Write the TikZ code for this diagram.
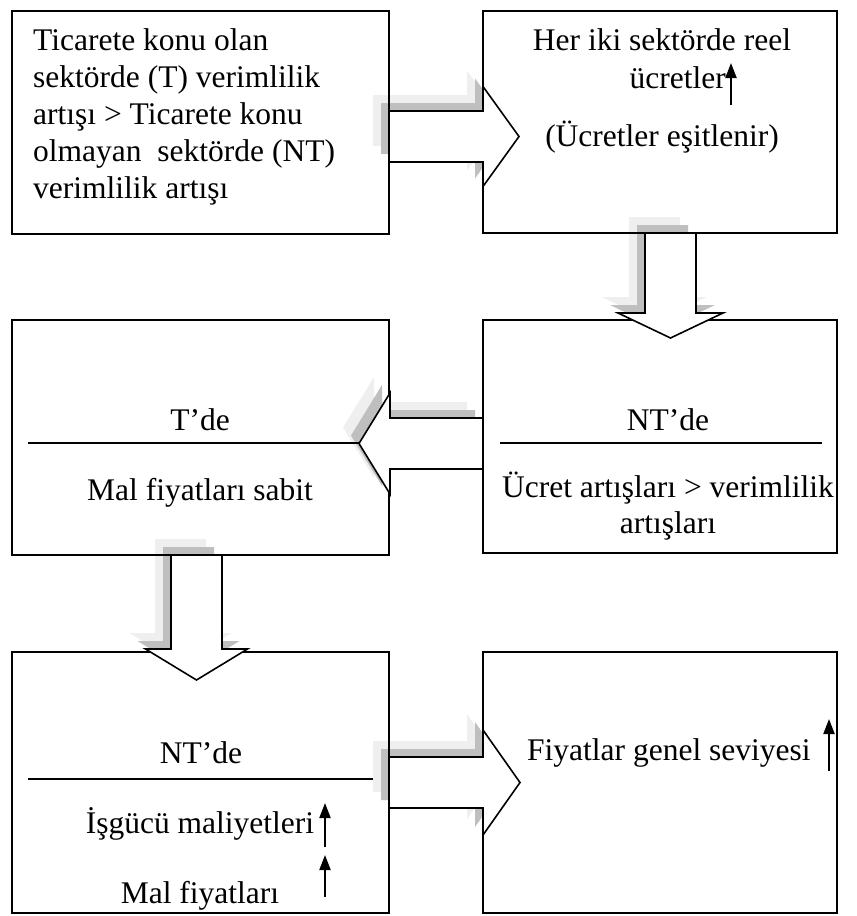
\documentclass[tikz,border=0pt]{standalone}
\usepackage{fontspec}
\setmainfont{Liberation Serif}
\usetikzlibrary{arrows.meta}
\pgfdeclarelayer{shadows}
\pgfdeclarelayer{front}
\pgfsetlayers{shadows,main,front}
\definecolor{shlight}{HTML}{EFEFEF}
\definecolor{shdark}{HTML}{BFBFBF}
% horizontal block arrow: back x, head-base x, tip x, centre y, half shaft, half head
\newcommand\hpathx[6]{({#1},{#4-#5}) -- ({#2},{#4-#5}) -- ({#2},{#4-#6}) -- ({#3},{#4}) -- ({#2},{#4+#6}) -- ({#2},{#4+#5}) -- ({#1},{#4+#5}) -- cycle}
% vertical block arrow: back y, head-base y, tip y, centre x, half shaft, half head
\newcommand\vpathx[6]{({#4-#5},{#1}) -- ({#4-#5},{#2}) -- ({#4-#6},{#2}) -- ({#4},{#3}) -- ({#4+#6},{#2}) -- ({#4+#5},{#2}) -- ({#4+#5},{#1}) -- cycle}
\newcommand\blockarrowH[6]{%
  \begin{pgfonlayer}{shadows}
    \fill[shlight, shift={(-16,-16)}] \hpathx{#1}{#2}{#3}{#4}{#5}{#6};
    \fill[shdark, shift={(-8,-8)}] \hpathx{#1}{#2}{#3}{#4}{#5}{#6};
  \end{pgfonlayer}
  \begin{pgfonlayer}{front}
    \draw[barrow] \hpathx{#1}{#2}{#3}{#4}{#5}{#6};
  \end{pgfonlayer}}
\newcommand\blockarrowV[6]{%
  \begin{pgfonlayer}{shadows}
    \fill[shlight, shift={(-16,-16)}] \vpathx{#1}{#2}{#3}{#4}{#5}{#6};
    \fill[shdark, shift={(-8,-8)}] \vpathx{#1}{#2}{#3}{#4}{#5}{#6};
  \end{pgfonlayer}
  \begin{pgfonlayer}{front}
    \draw[barrow] \vpathx{#1}{#2}{#3}{#4}{#5}{#6};
  \end{pgfonlayer}}
\begin{document}
\begin{tikzpicture}[x=1pt,y=-1pt,
  box/.style={draw, line width=1.6pt, inner sep=0pt, outer sep=0pt, anchor=north west},
  txt/.style={inner sep=0pt, font=\fontsize{31.5}{37}\selectfont},
  sepline/.style={line width=1.6pt},
  barrow/.style={draw, fill=white, line width=1.6pt, line join=miter},
  upar/.style={line width=2pt, -{Triangle[width=11pt,length=15pt]}}]
\useasboundingbox (0,0) rectangle (857,916);
% boxes
\node[box, minimum width=377pt, minimum height=223pt] (b1) at (12,11) {};
\node[box, minimum width=354pt, minimum height=222pt] (b2) at (483,11) {};
\node[box, minimum width=377pt, minimum height=235pt] (b3) at (12,320) {};
\node[box, minimum width=354pt, minimum height=233pt] (b4) at (483,320) {};
\node[box, minimum width=377pt, minimum height=261pt] (b5) at (12,652) {};
\node[box, minimum width=354pt, minimum height=261pt] (b6) at (483,652) {};
% box 1 text
\node[txt, anchor=base west] (t11) at (33,50) {Ticarete konu olan};
\node[txt, anchor=base west] (t12) at (33,87) {sektörde (T) verimlilik};
\node[txt, anchor=base west] (t13) at (33,124) {artışı > Ticarete konu};
\node[txt, anchor=base west] (t14) at (33,161) {olmayan\ \ sektörde (NT)};
\node[txt, anchor=base west] (t15) at (33,198) {verimlilik artışı};
% box 2 text
\node[txt, anchor=base] (t21) at (662,50) {Her iki sektörde reel};
\node[txt, anchor=base east] (t22) at (726,88) {ücretler};
\node[txt, anchor=base] (t23) at (662,146) {(Ücretler eşitlenir)};
\coordinate (u1a) at (731,105);
\coordinate (u1b) at (731,63);
\draw[upar] (u1a) -- (u1b);
% box 3 text
\node[txt, anchor=base] (t31) at (200,430) {T’de};
\draw[sepline] (28,443) -- (362,443);
\node[txt, anchor=base] (t32) at (200,500) {Mal fiyatları sabit};
% box 4 text
\node[txt, anchor=base] (t41) at (668,430) {NT’de};
\draw[sepline] (500,443) -- (822,443);
\node[txt, anchor=base] (t42) at (668,497) {Ücret artışları > verimlilik};
\node[txt, anchor=base] (t43) at (668,533) {artışları};
% box 5 text
\node[txt, anchor=base] (t51) at (201,763) {NT’de};
\draw[sepline] (28,779) -- (373,779);
\node[txt, anchor=base] (t52) at (200,833) {İşgücü maliyetleri};
\node[txt, anchor=base] (t53) at (200,903) {Mal fiyatları};
\coordinate (u2a) at (325,847);
\coordinate (u2b) at (325,803);
\coordinate (u3a) at (325,897);
\coordinate (u3b) at (325,855);
\draw[upar] (u2a) -- (u2b);
\draw[upar] (u3a) -- (u3b);
% box 6 text
\node[txt, anchor=base west] (t61) at (527,760) {Fiyatlar genel seviyesi};
\coordinate (u4a) at (829,771);
\coordinate (u4b) at (829,719);
\draw[upar] (u4a) -- (u4b);
% block arrows
\blockarrowH{389}{483}{519}{136.5}{25.5}{50}
\blockarrowV{233}{313}{338}{670.5}{25.5}{52.5}
\blockarrowH{483}{390}{359}{443.5}{25.5}{50.5}
\blockarrowV{555}{649}{680}{196.5}{25.5}{51}
\blockarrowH{389}{483}{520}{782.5}{25.5}{52.5}
\end{tikzpicture}
\end{document}
